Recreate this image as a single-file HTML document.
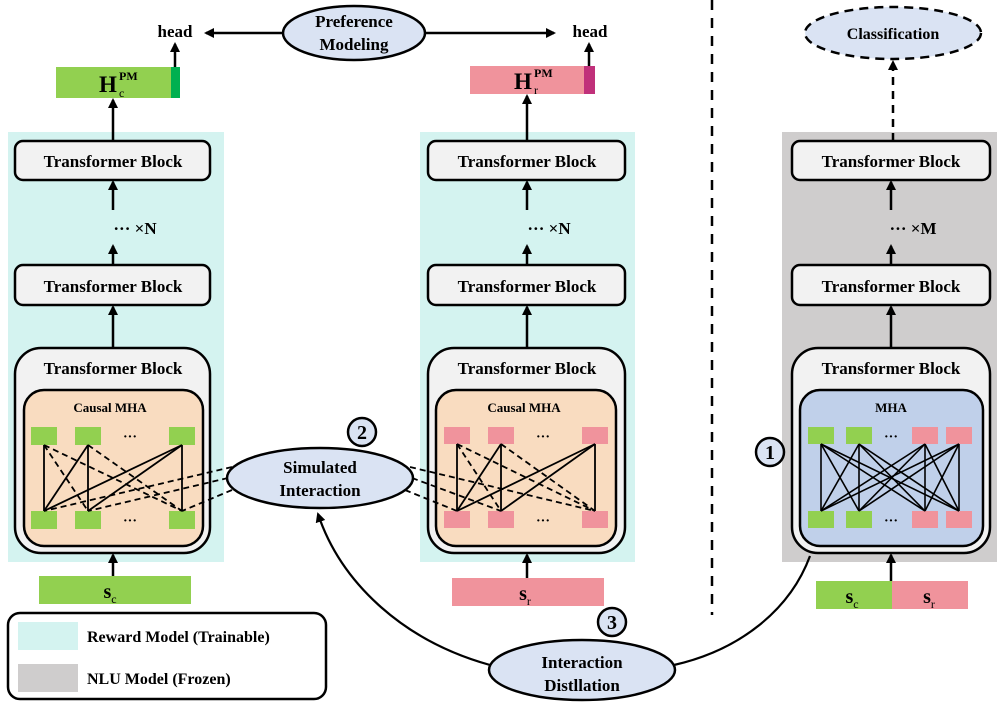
<!DOCTYPE html>
<html><head><meta charset="utf-8"><style>
html,body{margin:0;padding:0;background:#fff;}
svg{display:block;font-family:"Liberation Serif",serif;font-weight:bold;}
</style></head><body>
<svg width="997" height="708" viewBox="0 0 997 708" xmlns="http://www.w3.org/2000/svg">
<defs>
<marker id="ar" markerWidth="10" markerHeight="10" refX="8" refY="5" orient="auto" markerUnits="userSpaceOnUse">
<path d="M0,0 L10,5 L0,10 z" fill="#000"/></marker>
</defs>
<rect x="8" y="132" width="216" height="430" fill="#d4f3f0"/>
<rect x="420" y="132" width="215" height="430" fill="#d4f3f0"/>
<rect x="782" y="132" width="215" height="430" fill="#cfcdcd"/>
<line x1="712" y1="0" x2="712" y2="615" stroke="#000" stroke-width="2.5" stroke-dasharray="10,8"/>

<g>
<rect x="15" y="141" width="195" height="39" rx="8" fill="#f2f2f2" stroke="#000" stroke-width="2.5"/>
<text x="113" y="167" font-size="17" text-anchor="middle">Transformer Block</text>
<rect x="15" y="265" width="195" height="40" rx="8" fill="#f2f2f2" stroke="#000" stroke-width="2.5"/>
<text x="113" y="292" font-size="17" text-anchor="middle">Transformer Block</text>
<text x="135" y="234" font-size="17" text-anchor="middle">··· ×N</text>
<rect x="15" y="348" width="195" height="205" rx="26" fill="#f2f2f2" stroke="#000" stroke-width="2.5"/>
<text x="113" y="374" font-size="17" text-anchor="middle">Transformer Block</text>
<rect x="24" y="390" width="179" height="156" rx="20" fill="#f9dcc0" stroke="#000" stroke-width="2.5"/>
<text x="110" y="412" font-size="13" text-anchor="middle">Causal MHA</text>
<g fill="#92d050">
<rect x="31" y="427" width="26" height="18"/><rect x="75" y="427" width="26" height="18"/><rect x="169" y="427" width="26" height="18"/>
<rect x="31" y="511" width="26" height="18"/><rect x="75" y="511" width="26" height="18"/><rect x="169" y="511" width="26" height="18"/>
</g>
<text x="130" y="441" font-size="14" text-anchor="middle">···</text>
<text x="130" y="525" font-size="14" text-anchor="middle">···</text>
<g stroke="#000" stroke-width="1.8">
<line x1="44" y1="445" x2="44" y2="511"/><line x1="88" y1="445" x2="88" y2="511"/><line x1="182" y1="445" x2="182" y2="511"/>
<line x1="44" y1="511" x2="88" y2="445"/><line x1="44" y1="511" x2="182" y2="445"/><line x1="88" y1="511" x2="182" y2="445"/>
</g>
<g stroke="#000" stroke-width="1.8" stroke-dasharray="6,4" fill="none">
<line x1="44" y1="445" x2="88" y2="511"/><line x1="44" y1="445" x2="182" y2="511"/><line x1="88" y1="445" x2="182" y2="511"/>
<line x1="232" y1="467" x2="44" y2="511"/><line x1="228" y1="478" x2="88" y2="511"/><line x1="232" y1="490" x2="182" y2="511"/>
</g>
<rect x="39" y="576" width="152" height="28" fill="#92d050"/>
<text x="110" y="598" font-size="20" text-anchor="middle">s<tspan font-size="12" font-weight="normal" dy="5">c</tspan></text>
<line x1="113" y1="576" x2="113" y2="555" stroke="#000" stroke-width="2.5" marker-end="url(#ar)"/>
<line x1="113" y1="348" x2="113" y2="307" stroke="#000" stroke-width="2.5" marker-end="url(#ar)"/>
<line x1="113" y1="265" x2="113" y2="246" stroke="#000" stroke-width="2.5" marker-end="url(#ar)"/>
<line x1="113" y1="210" x2="113" y2="182" stroke="#000" stroke-width="2.5" marker-end="url(#ar)"/>
<line x1="113" y1="141" x2="113" y2="100" stroke="#000" stroke-width="2.5" marker-end="url(#ar)"/>
<rect x="56" y="67" width="124" height="31" fill="#92d050"/>
<rect x="171" y="67" width="9" height="31" fill="#00b050"/>
<text x="108" y="92" font-size="23" text-anchor="middle">H</text>
<text x="119" y="80" font-size="12">PM</text>
<text x="119" y="97" font-size="12" font-weight="normal">c</text>
<line x1="175" y1="67" x2="175" y2="44" stroke="#000" stroke-width="2.5" marker-end="url(#ar)"/>
<text x="175" y="37" font-size="17" text-anchor="middle">head</text>
</g>

<g>
<rect x="428" y="141" width="197" height="39" rx="8" fill="#f2f2f2" stroke="#000" stroke-width="2.5"/>
<text x="527" y="167" font-size="17" text-anchor="middle">Transformer Block</text>
<rect x="428" y="265" width="197" height="40" rx="8" fill="#f2f2f2" stroke="#000" stroke-width="2.5"/>
<text x="527" y="292" font-size="17" text-anchor="middle">Transformer Block</text>
<text x="549" y="234" font-size="17" text-anchor="middle">··· ×N</text>
<rect x="428" y="348" width="197" height="205" rx="26" fill="#f2f2f2" stroke="#000" stroke-width="2.5"/>
<text x="527" y="374" font-size="17" text-anchor="middle">Transformer Block</text>
<rect x="436" y="390" width="180" height="156" rx="20" fill="#f9dcc0" stroke="#000" stroke-width="2.5"/>
<text x="524" y="412" font-size="13" text-anchor="middle">Causal MHA</text>
<g fill="#f0939c">
<rect x="444" y="427" width="26" height="17"/><rect x="488" y="427" width="26" height="17"/><rect x="582" y="427" width="26" height="17"/>
<rect x="444" y="511" width="26" height="17"/><rect x="488" y="511" width="26" height="17"/><rect x="582" y="511" width="26" height="17"/>
</g>
<text x="543" y="441" font-size="14" text-anchor="middle">···</text>
<text x="543" y="525" font-size="14" text-anchor="middle">···</text>
<g stroke="#000" stroke-width="1.8">
<line x1="457" y1="444" x2="457" y2="511"/><line x1="501" y1="444" x2="501" y2="511"/><line x1="595" y1="444" x2="595" y2="511"/>
<line x1="457" y1="511" x2="501" y2="444"/><line x1="457" y1="511" x2="595" y2="444"/><line x1="501" y1="511" x2="595" y2="444"/>
</g>
<g stroke="#000" stroke-width="1.8" stroke-dasharray="6,4" fill="none">
<line x1="457" y1="444" x2="501" y2="511"/><line x1="457" y1="444" x2="595" y2="511"/><line x1="501" y1="444" x2="595" y2="511"/>
<line x1="410" y1="467" x2="595" y2="511"/><line x1="412" y1="478" x2="501" y2="511"/><line x1="405" y1="490" x2="457" y2="511"/>
</g>
<rect x="452" y="578" width="152" height="28" fill="#f0939c"/>
<text x="525" y="600" font-size="20" text-anchor="middle">s<tspan font-size="12" font-weight="normal" dy="5">r</tspan></text>
<line x1="527" y1="578" x2="527" y2="555" stroke="#000" stroke-width="2.5" marker-end="url(#ar)"/>
<line x1="527" y1="348" x2="527" y2="307" stroke="#000" stroke-width="2.5" marker-end="url(#ar)"/>
<line x1="527" y1="265" x2="527" y2="246" stroke="#000" stroke-width="2.5" marker-end="url(#ar)"/>
<line x1="527" y1="210" x2="527" y2="182" stroke="#000" stroke-width="2.5" marker-end="url(#ar)"/>
<line x1="527" y1="141" x2="527" y2="96" stroke="#000" stroke-width="2.5" marker-end="url(#ar)"/>
<rect x="470" y="66" width="125" height="28" fill="#f0939c"/>
<rect x="584" y="66" width="11" height="28" fill="#c0307a"/>
<text x="523" y="89" font-size="23" text-anchor="middle">H</text>
<text x="534" y="77" font-size="12">PM</text>
<text x="534" y="94" font-size="12" font-weight="normal">r</text>
<line x1="589" y1="66" x2="589" y2="44" stroke="#000" stroke-width="2.5" marker-end="url(#ar)"/>
<text x="590" y="37" font-size="17" text-anchor="middle">head</text>
</g>

<g>
<rect x="792" y="141" width="198" height="39" rx="8" fill="#f2f2f2" stroke="#000" stroke-width="2.5"/>
<text x="891" y="167" font-size="17" text-anchor="middle">Transformer Block</text>
<rect x="792" y="265" width="198" height="40" rx="8" fill="#f2f2f2" stroke="#000" stroke-width="2.5"/>
<text x="891" y="292" font-size="17" text-anchor="middle">Transformer Block</text>
<text x="913" y="234" font-size="17" text-anchor="middle">··· ×M</text>
<rect x="792" y="348" width="198" height="205" rx="26" fill="#f2f2f2" stroke="#000" stroke-width="2.5"/>
<text x="891" y="374" font-size="17" text-anchor="middle">Transformer Block</text>
<rect x="800" y="390" width="183" height="156" rx="20" fill="#c0d0ea" stroke="#000" stroke-width="2.5"/>
<text x="891" y="412" font-size="13" text-anchor="middle">MHA</text>
<g>
<rect x="808" y="427" width="26" height="17" fill="#92d050"/><rect x="846" y="427" width="26" height="17" fill="#92d050"/>
<rect x="912" y="427" width="26" height="17" fill="#f0939c"/><rect x="946" y="427" width="26" height="17" fill="#f0939c"/>
<rect x="808" y="511" width="26" height="17" fill="#92d050"/><rect x="846" y="511" width="26" height="17" fill="#92d050"/>
<rect x="912" y="511" width="26" height="17" fill="#f0939c"/><rect x="946" y="511" width="26" height="17" fill="#f0939c"/>
</g>
<text x="891" y="441" font-size="14" text-anchor="middle">···</text>
<text x="891" y="525" font-size="14" text-anchor="middle">···</text>
<g stroke="#000" stroke-width="1.6">
<line x1="821" y1="444" x2="821" y2="511"/><line x1="821" y1="444" x2="859" y2="511"/><line x1="821" y1="444" x2="925" y2="511"/><line x1="821" y1="444" x2="959" y2="511"/>
<line x1="859" y1="444" x2="821" y2="511"/><line x1="859" y1="444" x2="859" y2="511"/><line x1="859" y1="444" x2="925" y2="511"/><line x1="859" y1="444" x2="959" y2="511"/>
<line x1="925" y1="444" x2="821" y2="511"/><line x1="925" y1="444" x2="859" y2="511"/><line x1="925" y1="444" x2="925" y2="511"/><line x1="925" y1="444" x2="959" y2="511"/>
<line x1="959" y1="444" x2="821" y2="511"/><line x1="959" y1="444" x2="859" y2="511"/><line x1="959" y1="444" x2="925" y2="511"/><line x1="959" y1="444" x2="959" y2="511"/>
</g>
<rect x="816" y="581" width="76" height="28" fill="#92d050"/>
<rect x="892" y="581" width="76" height="28" fill="#f0939c"/>
<text x="852" y="603" font-size="20" text-anchor="middle">s<tspan font-size="12" font-weight="normal" dy="5">c</tspan></text>
<text x="929" y="603" font-size="20" text-anchor="middle">s<tspan font-size="12" font-weight="normal" dy="5">r</tspan></text>
<line x1="891" y1="581" x2="891" y2="555" stroke="#000" stroke-width="2.5" marker-end="url(#ar)"/>
<line x1="891" y1="348" x2="891" y2="307" stroke="#000" stroke-width="2.5" marker-end="url(#ar)"/>
<line x1="891" y1="265" x2="891" y2="246" stroke="#000" stroke-width="2.5" marker-end="url(#ar)"/>
<line x1="891" y1="210" x2="891" y2="182" stroke="#000" stroke-width="2.5" marker-end="url(#ar)"/>
<line x1="893" y1="141" x2="893" y2="62" stroke="#000" stroke-width="2.5" stroke-dasharray="8,6" marker-end="url(#ar)"/>
<ellipse cx="893" cy="33" rx="88" ry="26" fill="#dae3f3" stroke="#000" stroke-width="2.5" stroke-dasharray="9,6"/>
<text x="893" y="39" font-size="16" text-anchor="middle">Classification</text>
</g>

<line x1="284" y1="33" x2="206" y2="33" stroke="#000" stroke-width="2.5" marker-end="url(#ar)"/>
<line x1="424" y1="33" x2="554" y2="33" stroke="#000" stroke-width="2.5" marker-end="url(#ar)"/>
<ellipse cx="354" cy="33" rx="71" ry="27" fill="#dae3f3" stroke="#000" stroke-width="2.5"/>
<text x="354" y="27" font-size="17" text-anchor="middle">Preference</text>
<text x="354" y="50" font-size="17" text-anchor="middle">Modeling</text>

<ellipse cx="320" cy="478" rx="93" ry="30" fill="#dae3f3" stroke="#000" stroke-width="2.5"/>
<text x="320" y="473" font-size="17" text-anchor="middle">Simulated</text>
<text x="320" y="496" font-size="17" text-anchor="middle">Interaction</text>
<circle cx="362" cy="432" r="14" fill="#dae3f3" stroke="#000" stroke-width="2.5"/>
<text x="362" y="439" font-size="20" text-anchor="middle">2</text>
<circle cx="770" cy="452" r="14" fill="#dae3f3" stroke="#000" stroke-width="2.5"/>
<text x="770" y="459" font-size="20" text-anchor="middle">1</text>
<circle cx="612" cy="622" r="14" fill="#dae3f3" stroke="#000" stroke-width="2.5"/>
<text x="612" y="629" font-size="20" text-anchor="middle">3</text>

<path d="M490,665 C400,640 340,580 318,514" fill="none" stroke="#000" stroke-width="2.2" marker-end="url(#ar)"/>
<path d="M674,665 C740,650 790,610 810,556" fill="none" stroke="#000" stroke-width="2.2"/>

<ellipse cx="582" cy="670" rx="93" ry="30" fill="#dae3f3" stroke="#000" stroke-width="2.5"/>
<text x="582" y="668" font-size="17" text-anchor="middle">Interaction</text>
<text x="582" y="691" font-size="17" text-anchor="middle">Distllation</text>

<rect x="8" y="613" width="318" height="86" rx="12" fill="#fff" stroke="#000" stroke-width="2.5"/>
<rect x="18" y="622" width="60" height="28" fill="#d4f3f0"/>
<rect x="18" y="664" width="60" height="28" fill="#cfcdcd"/>
<text x="87" y="642" font-size="16">Reward Model (Trainable)</text>
<text x="87" y="684" font-size="16">NLU Model (Frozen)</text>
</svg>
</body></html>
